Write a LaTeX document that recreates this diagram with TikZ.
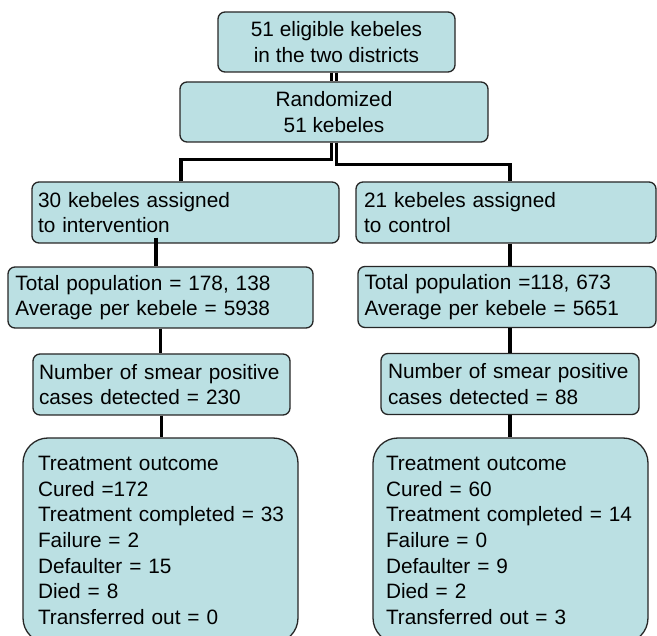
\documentclass[tikz,border=0pt]{standalone}
\usepackage{fontspec}
\setmainfont{Liberation Sans}
\usepackage{tikz}
\definecolor{boxfill}{RGB}{187,224,227}

\begin{document}
\begin{tikzpicture}[
    x=1pt, y=1pt,
    font=\fontsize{20.8}{25.6}\selectfont,
    box/.style={draw=black!85, line width=1.3pt, fill=boxfill, rounded corners=7pt, inner ysep=0pt, minimum height=61pt, align=left},
    tbox/.style={box, rounded corners=25pt, minimum height=205pt},
    conn/.style={line width=3.6pt},
  ]
    \useasboundingbox (0,0) rectangle (657,-636);

    % Top
    \node[box, align=center, minimum width=237pt, minimum height=60pt] (elig) at (336.5,-42) {51 eligible kebeles\\in the two districts};
    \node[box, align=center, minimum width=308pt, minimum height=60pt] (rand) at (334,-112) {Randomized\\51 kebeles};

    % Left side (intervention)
    \node[box, text width=295pt, inner xsep=6pt] (interv) at (185.5,-212.5) {30 kebeles assigned\\to intervention};
    \node[box, text width=290pt, inner xsep=7.5pt] (popL) at (160.5,-297.5) {Total population = 178, 138\\Average per kebele = 5938};
    \node[box, text width=245pt, inner xsep=6pt] (smearL) at (161.5,-384.5) {Number of smear positive\\cases detected = 230};
    \node[tbox, text width=245pt, inner xsep=15pt] (treatL) at (160.5,-540.5) {Treatment outcome\\Cured =172\\\mbox{Treatment completed = 33}\\Failure = 2\\Defaulter = 15\\Died = 8\\Transferred out = 0};

    % Right side (control)
    \node[box, text width=284pt, inner xsep=8pt] (ctrl) at (506,-212.5) {21 kebeles assigned\\to control};
    \node[box, text width=285pt, inner xsep=6.5pt] (popR) at (507,-297) {Total population =118, 673\\Average per kebele = 5651};
    \node[box, text width=244pt, inner xsep=7pt] (smearR) at (510,-384) {Number of smear positive\\cases detected = 88};
    \node[tbox, text width=249pt, inner xsep=13pt] (treatR) at (510.5,-540.5) {Treatment outcome\\Cured = 60\\\mbox{Treatment completed = 14}\\Failure = 0\\Defaulter = 9\\Died = 2\\Transferred out = 3};

    % Connectors
    \draw[conn, line width=3.3pt] ([xshift=-5pt]elig.south) -- ([xshift=-5pt]elig.south |- rand.north);
    \draw[conn, line width=3.3pt] (elig.south) -- (elig.south |- rand.north);
    \draw[conn, line width=3.3pt] ([xshift=-2.5pt]rand.south) -- ++(0,-17) -| ([xshift=-4.5pt]interv.north);
    \draw[conn, line width=3.3pt] ([xshift=2.5pt]rand.south) -- ++(0,-22) -| ([xshift=4pt]ctrl.north);
    \draw[conn] ([xshift=-29.5pt,yshift=6pt]interv.south) -- ([xshift=-29.5pt]interv.south |- popL.north);
    \draw[conn] (popL.south) -- (popL.south |- smearL.north);
    \draw[conn] (smearL.south) -- (smearL.south |- treatL.north);
    \draw[conn] ([xshift=4pt]ctrl.south) -- ([xshift=4pt]ctrl.south |- popR.north);
    \draw[conn] ([xshift=3pt]popR.south) -- ([xshift=3pt]popR.south |- smearR.north);
    \draw[conn] (smearR.south) -- (smearR.south |- treatR.north);
  \end{tikzpicture}
\end{document}
